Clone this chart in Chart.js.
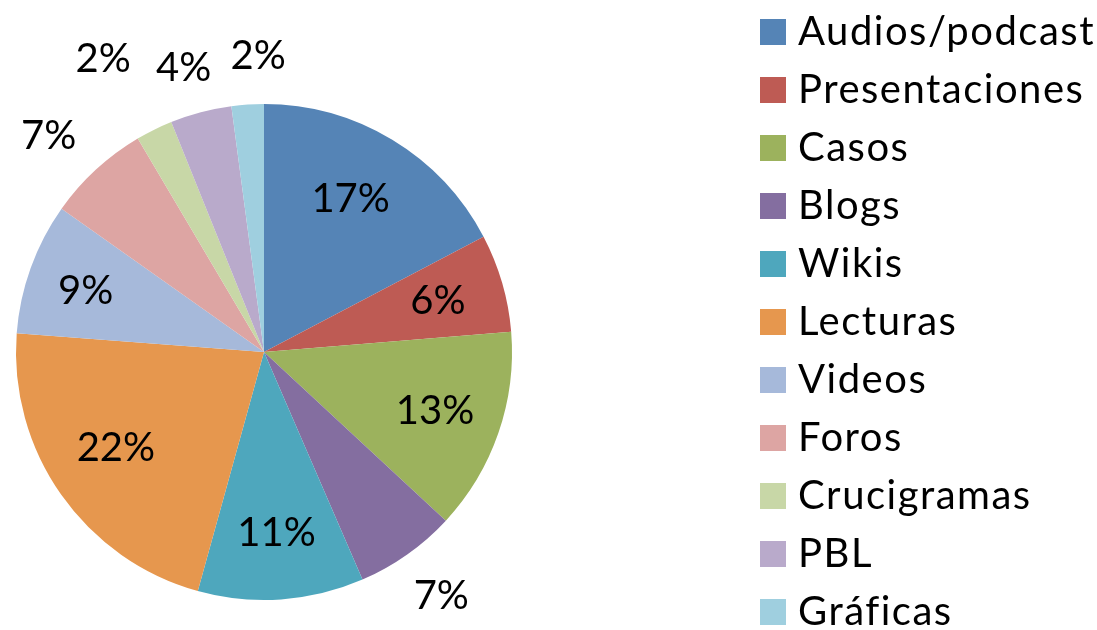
<!DOCTYPE html>
<html>
<head>
<meta charset="utf-8">
<script src="https://cdn.jsdelivr.net/npm/chart.js@4/dist/chart.umd.min.js"></script>
<style>
  html, body { margin: 0; padding: 0; background: #fff; }
  #wrap { width: 1097px; height: 630px; }
</style>
</head>
<body>
<div id="wrap"><canvas id="pieChart" width="1097" height="630"></canvas></div>
<script>
// Chart data
const categories = ["Audios/podcast", "Presentaciones", "Casos", "Blogs", "Wikis", "Lecturas",
    "Videos", "Foros", "Crucigramas", "PBL", "Gráficas"];
const shares = [17.3, 6.4, 13.2, 6.6, 10.8, 21.9, 8.6, 6.7, 2.4, 4.0, 2.1];

// Slice colours (Office 2007 style)
const sliceColors = ["#5584b6", "#be5b54", "#9cb25d", "#846ea0", "#4ea7bd", "#e6974e",
    "#a6b9da", "#dda5a3", "#c8d7a7", "#b9aacb", "#9fcfdf"];

const labelFont = '40px Lato';

// Percent labels: inside big slices, outside small ones
const sliceLabels = {
    id: 'sliceLabels',
    afterDatasetsDraw(chart, args, opts) {
        const ctx = chart.ctx;
        const arcs = chart.getDatasetMeta(0).data;
        ctx.save();
        ctx.font = labelFont;
        ctx.fillStyle = '#000';
        ctx.textAlign = 'center';
        ctx.textBaseline = 'middle';
        arcs.forEach((arc, i) => {
            const mid = (arc.startAngle + arc.endAngle) / 2;
            const inside = opts.inside.includes(i);
            const r = inside ? arc.outerRadius * opts.insideFactor : arc.outerRadius + opts.outsideGap;
            const nudge = opts.nudge[i] || [0, 0];
            const x = arc.x + Math.cos(mid) * r + nudge[0];
            const y = arc.y + Math.sin(mid) * r + nudge[1];
            ctx.fillText(Math.round(shares[i]) + '%', x, y);
        });
        ctx.restore();
    }
};

// Legend on the right
const sideLegend = {
    id: 'sideLegend',
    afterDraw(chart, args, opts) {
        const ctx = chart.ctx;
        ctx.save();
        ctx.font = labelFont;
        ctx.letterSpacing = opts.spacing;
        ctx.textBaseline = 'middle';
        ctx.textAlign = 'left';
        categories.forEach((name, i) => {
            const cy = opts.top + i * opts.step;
            ctx.fillStyle = sliceColors[i];
            ctx.fillRect(opts.left, cy - opts.box / 2 + 1, opts.box, opts.box);
            ctx.fillStyle = '#000';
            ctx.fillText(name, opts.left + opts.box + 12, cy + 1);
        });
        ctx.restore();
    }
};

const chartContext = document.getElementById('pieChart').getContext('2d');
new Chart(chartContext, {
    type: 'pie',
    data: {
        labels: categories,
        datasets: [{
            data: shares,
            backgroundColor: sliceColors,
            borderWidth: 0
        }]
    },
    options: {
        responsive: false,
        animation: false,
        layout: { padding: { left: 16, top: 104, right: 585, bottom: 30 } },
        plugins: {
            legend: { display: false },
            tooltip: { enabled: false },
            sliceLabels: {
                insideFactor: 0.73,
                outsideGap: 52,
                inside: [0, 1, 2, 4, 5, 6],
                nudge: { 0: [-7, 2], 3: [4, -1], 5: [0, -8], 6: [-8, 0], 7: [-12, 5], 8: [-28, -24], 9: [-4, 6], 10: [14, 3] }
            },
            sideLegend: { left: 760, top: 31, step: 58, box: 26, spacing: '1.5px' }
        }
    },
    plugins: [sliceLabels, sideLegend]
});
</script>
</body>
</html>
